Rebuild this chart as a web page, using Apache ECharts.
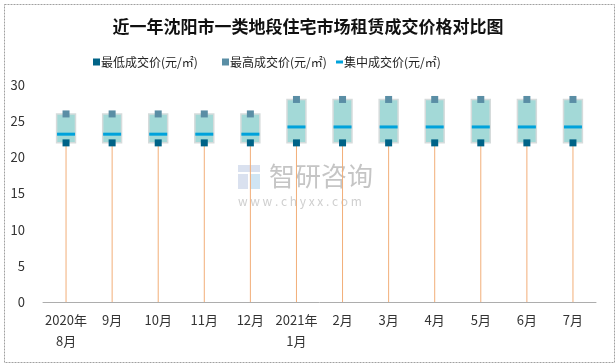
<!DOCTYPE html>
<html>
<head>
<meta charset="utf-8">
<script src="https://cdn.jsdelivr.net/npm/echarts@6/dist/echarts.min.js"></script>
<style>html,body{margin:0;padding:0;background:#fff}#main{width:616px;height:364px}</style>
</head>
<body>
<div id="main"></div>
<script>
var categories = ['2020年\n8月','9月','10月','11月','12月','2021年\n1月','2月','3月','4月','5月','6月','7月'];
var lowPrice  = [22,22,22,22,22,22,22,22,22,22,22,22];
var highPrice = [26,26,26,26,26,28,28,28,28,28,28,28];
var midPrice  = [23.2,23.2,23.2,23.2,23.2,24.2,24.2,24.2,24.2,24.2,24.2,24.2];
var yTicks = [0,5,10,15,20,25,30];

var FONT = '"Noto Sans CJK SC", "Microsoft YaHei", sans-serif';
var chart = echarts.init(document.getElementById('main'), null, {renderer:'canvas'});

var boxData = categories.map(function(c,i){ return [i, lowPrice[i], highPrice[i]]; });

function legendOf(name, left, w, h){
  return {
    left: left, top: 50, itemWidth: w, itemHeight: h, itemGap: 0,
    data: [{name: name, icon: 'rect'}],
    textStyle: {fontFamily: FONT, fontSize: 12, color: '#222', padding: [0,0,0,-4], lineHeight: 14},
    selectedMode: false
  };
}

var option = {
  backgroundColor: '#fff',
  animation: false,
  title: {
    text: '近一年沈阳市一类地段住宅市场租赁成交价格对比图',
    left: 'center', top: 13,
    textStyle: {fontFamily: FONT, fontSize: 17, fontWeight: 'bold', color: '#111'}
  },
  legend: [
    legendOf('最低成交价(元/㎡)', 88, 7, 7),
    legendOf('最高成交价(元/㎡)', 217, 7, 7),
    legendOf('集中成交价(元/㎡)', 331, 7, 3)
  ],
  grid: {left: 43, right: 20, top: 85, bottom: 62, containLabel: false},
  xAxis: {
    type: 'category',
    data: categories,
    boundaryGap: true,
    axisLine: {show: true, lineStyle: {color: '#ADADAD', width: 1}},
    axisTick: {show: false},
    axisLabel: {fontFamily: FONT, fontSize: 13, color: '#333', margin: 8, lineHeight: 21, interval: 0}
  },
  yAxis: {
    type: 'value',
    min: yTicks[0], max: yTicks[yTicks.length-1], interval: 5,
    axisLine: {show: false},
    axisTick: {show: false},
    splitLine: {show: false},
    axisLabel: {fontFamily: FONT, fontSize: 13, color: '#333', margin: 18}
  },
  series: [
    {
      type: 'custom',
      name: 'box',
      z: 1,
      data: boxData,
      encode: {x: 0, y: [1,2]},
      renderItem: function(params, api){
        var i = api.value(0);
        var zero = api.coord([i, 0]);
        var lo = api.coord([i, api.value(1)]);
        var hi = api.coord([i, api.value(2)]);
        var w = api.size([1, 0])[0] * 0.41;
        return {
          type: 'group',
          children: [
            {type: 'line', shape: {x1: zero[0], y1: zero[1], x2: lo[0], y2: lo[1]},
             style: {stroke: '#F2AE78', lineWidth: 1}},
            {type: 'rect', shape: {x: lo[0] - w/2, y: hi[1], width: w, height: lo[1] - hi[1]},
             style: {fill: '#A3D9D7', stroke: '#D5DBDB', lineWidth: 1.5}}
          ]
        };
      }
    },
    {
      type: 'scatter',
      name: '集中成交价(元/㎡)',
      z: 2,
      symbol: 'rect',
      symbolSize: [18, 3],
      itemStyle: {color: '#00A2DB', opacity: 1},
      data: midPrice
    },
    {
      type: 'scatter',
      name: '最低成交价(元/㎡)',
      z: 3,
      symbol: 'rect',
      symbolSize: 7,
      itemStyle: {color: '#006387', opacity: 1},
      data: lowPrice
    },
    {
      type: 'scatter',
      name: '最高成交价(元/㎡)',
      z: 3,
      symbol: 'rect',
      symbolSize: 7,
      itemStyle: {color: '#5A8EA5', opacity: 1},
      data: highPrice
    }
  ],
  graphic: [
    {type: 'rect', left: 2, top: 2, z: -10, silent: true,
     shape: {width: 610, height: 358},
     style: {fill: 'none', stroke: '#A0A0A0', lineWidth: 1, lineDash: [2,1]}},
    {type: 'group', left: 238, top: 163, z: 100, silent: true, children: [
      {type: 'rect', shape: {x: 0, y: 0, width: 22, height: 7}, style: {fill: 'rgba(150,170,210,0.35)'}},
      {type: 'rect', shape: {x: 0, y: 9, width: 10, height: 15}, style: {fill: 'rgba(150,170,210,0.35)'}},
      {type: 'rect', shape: {x: 12, y: 9, width: 10, height: 15}, style: {fill: 'rgba(120,180,220,0.35)'}},
      {type: 'text', x: 31, y: -2, style: {text: '智研咨询', font: '26px ' + FONT, fill: 'rgba(150,150,150,0.55)'}},
      {type: 'text', x: 0, y: 30, style: {text: 'w w w . c h y x x . c o m', font: '12px ' + FONT, fill: 'rgba(160,160,160,0.5)'}}
    ]}
  ]
};
chart.setOption(option);
</script>
</body>
</html>
